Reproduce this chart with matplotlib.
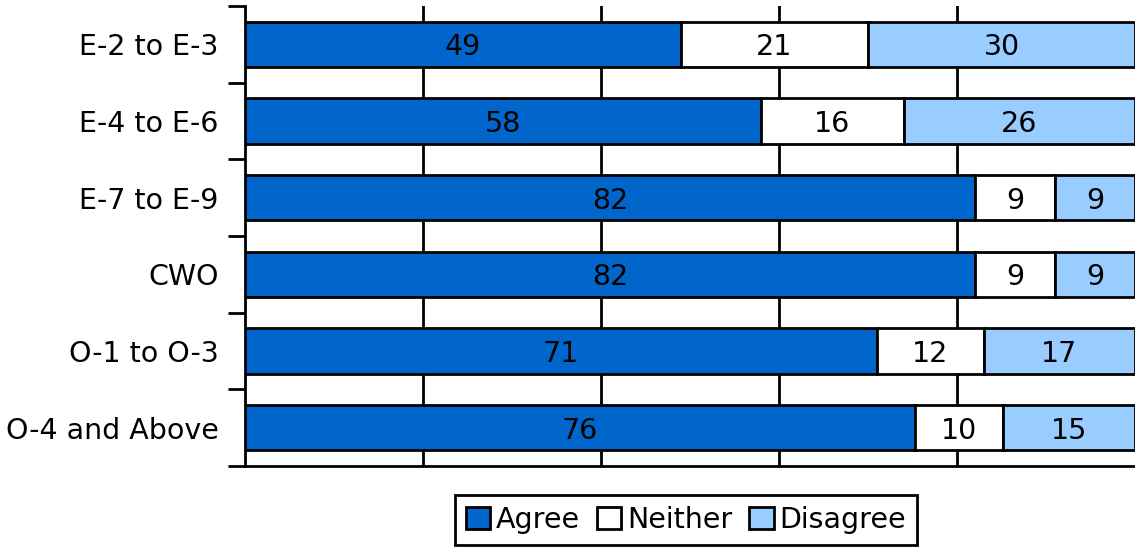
import numpy as np
import matplotlib
matplotlib.use('Agg')
import matplotlib.pyplot as plt

# Survey responses by rank group (percent)
groups = ['E-2 to E-3', 'E-4 to E-6', 'E-7 to E-9', 'CWO', 'O-1 to O-3', 'O-4 and Above']
agree = [49, 58, 82, 82, 71, 76]
neither = [21, 16, 9, 9, 12, 10]
disagree = [30, 26, 9, 9, 17, 15]

series = [('Agree', agree, '#0066CC'),
          ('Neither', neither, '#FFFFFF'),
          ('Disagree', disagree, '#99CCFF')]

plt.rcParams['font.family'] = ['DejaVu Sans']
fs = 20.5

fig = plt.figure(figsize=(11.35, 5.5), dpi=100)
ax = fig.add_axes([245 / 1135, 1 - 466 / 550, 1 - 245 / 1135, 460 / 550])

totals = np.array(agree) + np.array(neither) + np.array(disagree)
y = np.arange(len(groups))
left = np.zeros(len(groups))
for name, vals, color in series:
    w = np.array(vals) / totals * 100
    ax.barh(y, w, left=left, height=0.59, color=color, edgecolor='black',
            linewidth=2, label=name, zorder=3)
    for yi, li, wi, v in zip(y, left, w, vals):
        ax.text(li + wi / 2, yi, str(v), ha='center', va='center_baseline',
                fontsize=fs, color='black', zorder=4)
    left += w

ax.set_xlim(0, 100)
ax.set_ylim(len(groups) - 0.5, -0.5)
ax.set_yticks(y)
ax.set_yticklabels(groups, fontsize=fs)
ax.set_yticks(np.arange(len(groups) + 1) - 0.5, minor=True)
ax.tick_params(axis='y', which='major', length=0, pad=19)
ax.tick_params(axis='y', which='minor', length=12, width=2, direction='out')
ax.set_xticks([20, 40, 60, 80])
ax.tick_params(axis='x', length=0, labelbottom=False)
ax.grid(axis='x', color='black', linewidth=2, zorder=0)

for s in ['top', 'right']:
    ax.spines[s].set_visible(False)
for s in ['left', 'bottom']:
    ax.spines[s].set_linewidth(2)

leg = fig.legend(loc='center', bbox_to_anchor=(686 / 1135, 1 - 520 / 550), ncol=3,
                 fontsize=fs, frameon=True, fancybox=False, edgecolor='black',
                 framealpha=1, handlelength=0.85, handleheight=0.85, handletextpad=0.2,
                 columnspacing=0.6, borderpad=0.4)
leg.get_frame().set_linewidth(2)

fig.savefig('out.png', dpi=100)
